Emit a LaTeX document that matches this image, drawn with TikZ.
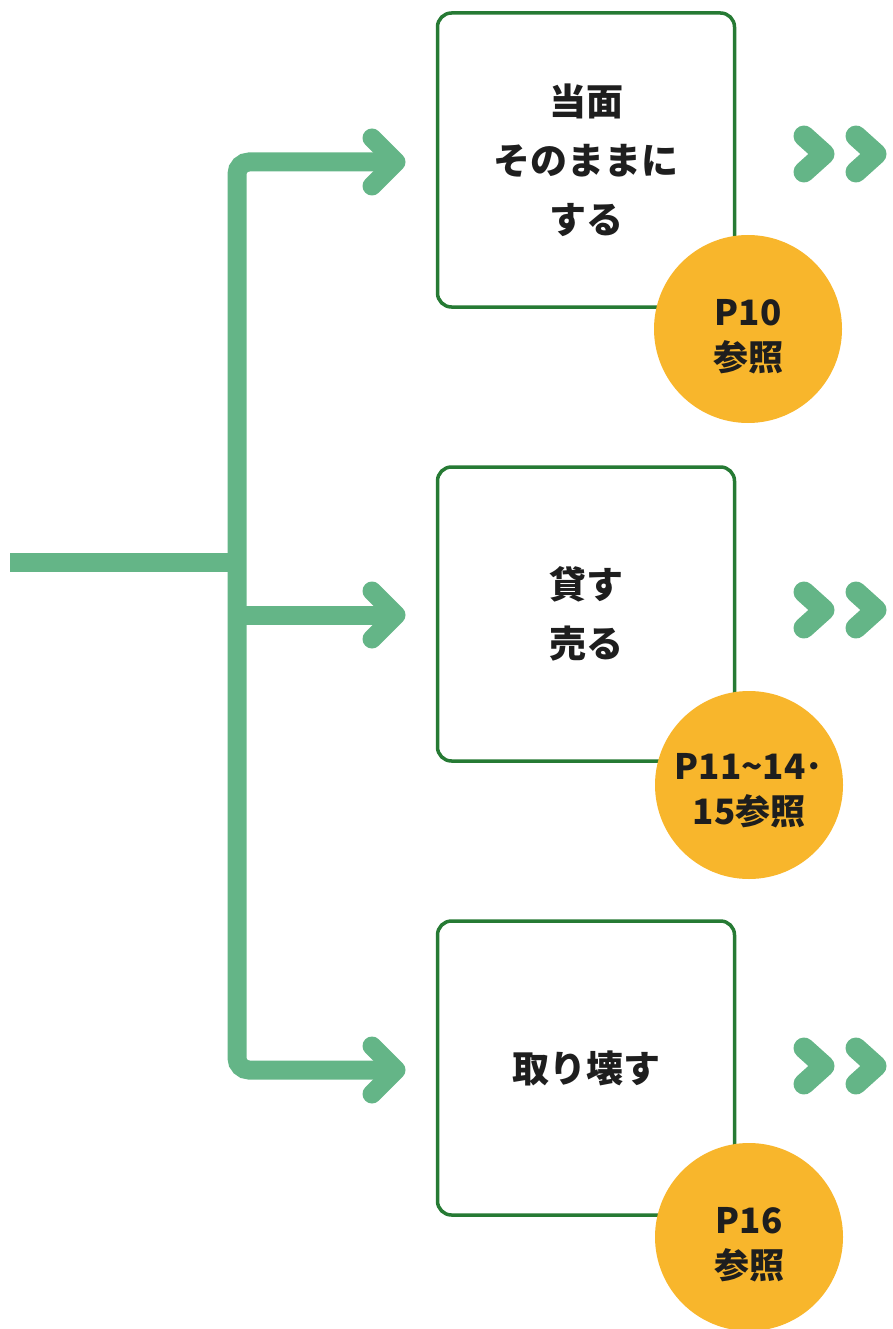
\documentclass[tikz,border=0pt]{standalone}
\usepackage{fontspec}
\setmainfont{Noto Sans CJK JP}
\definecolor{flowgreen}{RGB}{100,181,135}
\definecolor{boxgreen}{RGB}{38,122,52}
\definecolor{badgeorange}{RGB}{248,182,44}
\definecolor{textdark}{RGB}{30,30,30}
\begin{document}
\begin{tikzpicture}[x=1pt,y=-1pt,
  flow/.style={draw=flowgreen,line width=19pt},
  head/.style={draw=flowgreen,line width=19pt,line cap=round,line join=round},
  chev/.style={draw=flowgreen,line width=21pt,line cap=round,line join=round},
  box/.style={draw=boxgreen,line width=3.5pt,rounded corners=14pt,fill=white,
    minimum width=297pt,minimum height=294pt,align=center,text=textdark,
    font=\bfseries\fontsize{37}{59}\selectfont},
  badge/.style={circle,fill=badgeorange,minimum size=188pt,inner sep=0pt},
  badgetext/.style={align=center,text=textdark,inner sep=0pt,
    font=\bfseries\fontsize{35}{45}\selectfont}]
\useasboundingbox (0,0) rectangle (892,1329);
% connectors
\coordinate (in) at (10,562);
\coordinate (j) at (237,562);
\coordinate (t1) at (396,162);
\coordinate (t2) at (396,615);
\coordinate (t3) at (396,1070);
\draw[flow] (in) -- (j);
\draw[flow,rounded corners=12pt] (t1) -- (237,162) -- (237,1070) -- (t3);
\draw[flow] (237,615) -- (t2);
\foreach \t in {t1,t2,t3}{
  \draw[head] (\t) ++(-24,-24) -- (\t) -- ++(-24,24);
}
% boxes
\node[box] (b1) at (586,160) {当面\\そのままに\\する};
\node[box] (b2) at (586,614) {貸す\\売る};
\node[box] (b3) at (586,1068) {取り壊す};
% badges
\node[badge] (c1) at (748,329) {};
\node[badge] (c2) at (749,785) {};
\node[badge] (c3) at (749,1237) {};
\node[badgetext] (l1) at ([yshift=-8pt]c1.center) {P10\\参照};
\node[badgetext] (l2) at ([yshift=-6pt]c2.center) {P11{\char`\~}14･\\15参照};
\node[badgetext] (l3) at ([yshift=-8pt]c3.center) {P16\\参照};
% chevrons
\foreach \y in {154,610,1066}{
  \draw[chev] (804,\y-18) -- (824,\y) -- (804,\y+18);
  \draw[chev] (856,\y-18) -- (876,\y) -- (856,\y+18);
}
\end{tikzpicture}
\end{document}
